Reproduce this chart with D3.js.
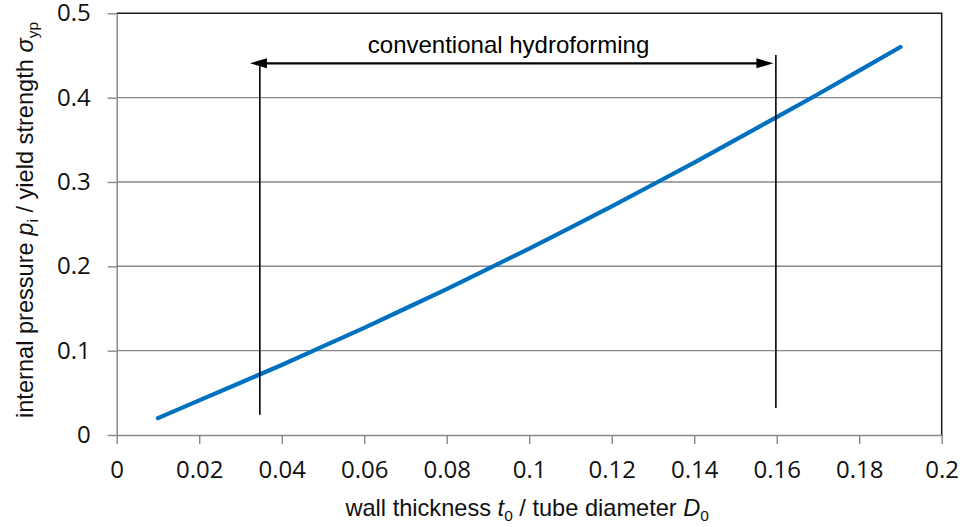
<!DOCTYPE html>
<html>
<head>
<meta charset="utf-8">
<script src="https://cdn.jsdelivr.net/npm/d3@7"></script>
<style>
  html, body { margin: 0; padding: 0; background: #fff; }
  svg { display: block; }
</style>
</head>
<body>
<svg id="chart" width="964" height="527"></svg>
<script>
// ---- data ----
const wallRatio = [0.01, 0.02, 0.03, 0.04, 0.05, 0.06, 0.07, 0.08, 0.09, 0.10,
                   0.11, 0.12, 0.13, 0.14, 0.15, 0.16, 0.17, 0.18, 0.19];
const pressureRatio = [0.020, 0.041, 0.062, 0.083, 0.105, 0.127, 0.150, 0.173, 0.197, 0.221,
                       0.246, 0.271, 0.297, 0.323, 0.350, 0.377, 0.404, 0.432, 0.460];
const xTicks = [0, 0.02, 0.04, 0.06, 0.08, 0.1, 0.12, 0.14, 0.16, 0.18, 0.2];
const xTickLabels = ["0", "0.02", "0.04", "0.06", "0.08", "0.1", "0.12", "0.14", "0.16", "0.18", "0.2"];
const yTicks = [0, 0.1, 0.2, 0.3, 0.4, 0.5];
const yTickLabels = ["0", "0.1", "0.2", "0.3", "0.4", "0.5"];
// annotation "conventional hydroforming" (data units)
const rangeLabel = "conventional hydroforming";
const rangeLeftLine = [[0.0347, 0.024], [0.0347, 0.4407]];
const rangeRightLine = [[0.1598, 0.032], [0.1598, 0.4506]];
const rangeArrow = [[0.0323, 0.4407], [0.1592, 0.4407]];
const rangeLabelPos = [0.0950, 0.4525];

// ---- layout ----
const svg = d3.select("#chart");
const pLeft = 116.7, pRight = 941.7, pTop = 13.3, pBottom = 435;
const x = d3.scaleLinear().domain([0, 0.2]).range([pLeft, pRight]);
const y = d3.scaleLinear().domain([0, 0.5]).range([pBottom, pTop]);
const gray = "#878787";
const tickFont = "'Open Sans', Calibri, sans-serif";
const textFont = "'Liberation Sans', Arial, sans-serif";

// gridlines
svg.append("g").selectAll("line").data(yTicks.filter(v => v > 0 && v < 0.5)).join("line")
  .attr("x1", pLeft).attr("x2", pRight)
  .attr("y1", d => y(d)).attr("y2", d => y(d))
  .attr("stroke", gray).attr("stroke-width", 1.4);

// plot frame (top and right)
svg.append("path")
  .attr("d", `M${pLeft},${pTop}H${pRight}V${pBottom}`)
  .attr("fill", "none").attr("stroke", "#1a1a1a").attr("stroke-width", 1.5);

// x axis
const xAxis = d3.axisBottom(x).tickValues(xTicks)
  .tickFormat((d, i) => xTickLabels[i]).tickSize(9).tickSizeOuter(0);
const gx = svg.append("g").attr("transform", `translate(0,${pBottom})`).call(xAxis);
gx.select(".domain").attr("stroke", gray).attr("stroke-width", 1.5);
gx.selectAll(".tick line").attr("stroke", gray).attr("stroke-width", 1.4);
gx.selectAll(".tick text").attr("y", 43).attr("dy", 0)
  .attr("font-family", tickFont).attr("font-size", 24).attr("fill", "#111");

// y axis
const yAxis = d3.axisLeft(y).tickValues(yTicks)
  .tickFormat((d, i) => yTickLabels[i]).tickSize(9).tickSizeOuter(0);
const gy = svg.append("g").attr("transform", `translate(${pLeft},0)`).call(yAxis);
gy.select(".domain").attr("stroke", gray).attr("stroke-width", 1.5);
gy.selectAll(".tick line").attr("stroke", gray).attr("stroke-width", 1.4);
gy.selectAll(".tick text").attr("x", -26).attr("dy", "0.31em")
  .attr("font-family", tickFont).attr("font-size", 24).attr("fill", "#111");

// curve
const line = d3.line().x((d, i) => x(wallRatio[i])).y(d => y(d));
svg.append("path").datum(pressureRatio)
  .attr("d", line)
  .attr("fill", "none").attr("stroke", "#0070C0")
  .attr("stroke-width", 4.2).attr("stroke-linecap", "round").attr("stroke-linejoin", "round");

// annotation lines
const seg = d3.line().x(d => x(d[0])).y(d => y(d[1]));
[rangeLeftLine, rangeRightLine].forEach(l => {
  svg.append("path").attr("d", seg(l)).attr("stroke", "#000").attr("stroke-width", 1.6).attr("fill", "none");
});
const ax1 = x(rangeArrow[0][0]), ax2 = x(rangeArrow[1][0]), ay = y(rangeArrow[0][1]);
const headL = 17, headW = 5;
svg.append("path").attr("d", `M${ax1 + headL - 2},${ay}H${ax2 - headL + 2}`)
  .attr("stroke", "#000").attr("stroke-width", 2.2);
svg.append("path").attr("d", `M${ax1},${ay}L${ax1 + headL},${ay - headW}L${ax1 + headL},${ay + headW}Z`).attr("fill", "#000");
svg.append("path").attr("d", `M${ax2},${ay}L${ax2 - headL},${ay - headW}L${ax2 - headL},${ay + headW}Z`).attr("fill", "#000");

svg.append("text").attr("x", x(rangeLabelPos[0])).attr("y", y(rangeLabelPos[1]))
  .attr("text-anchor", "middle").attr("font-family", textFont).attr("font-size", 24)
  .attr("fill", "#000").text(rangeLabel);

// x title
const xt = svg.append("text").attr("x", (pLeft + pRight) / 2 - 2).attr("y", 516)
  .attr("text-anchor", "middle").attr("font-family", textFont).attr("font-size", 23.6).attr("fill", "#111");
xt.append("tspan").text("wall thickness ");
xt.append("tspan").attr("font-style", "italic").text("t");
xt.append("tspan").attr("font-size", 15.5).attr("dy", 5).text("0");
xt.append("tspan").attr("dy", -5).text(" / tube diameter ");
xt.append("tspan").attr("font-style", "italic").text("D");
xt.append("tspan").attr("font-size", 15.5).attr("dy", 5).text("0");

// y title
const yt = svg.append("text").attr("transform", `translate(33,220) rotate(-90)`)
  .attr("text-anchor", "middle").attr("font-family", textFont).attr("font-size", 23.6).attr("fill", "#111");
yt.append("tspan").text("internal pressure ");
yt.append("tspan").attr("font-style", "italic").text("p");
yt.append("tspan").attr("font-size", 15.5).attr("dy", 5).text("i");
yt.append("tspan").attr("dy", -5).text(" / yield strength ");
yt.append("tspan").attr("font-style", "italic").text("σ");
yt.append("tspan").attr("font-size", 15.5).attr("dy", 5).text("yp");
</script>
</body>
</html>
